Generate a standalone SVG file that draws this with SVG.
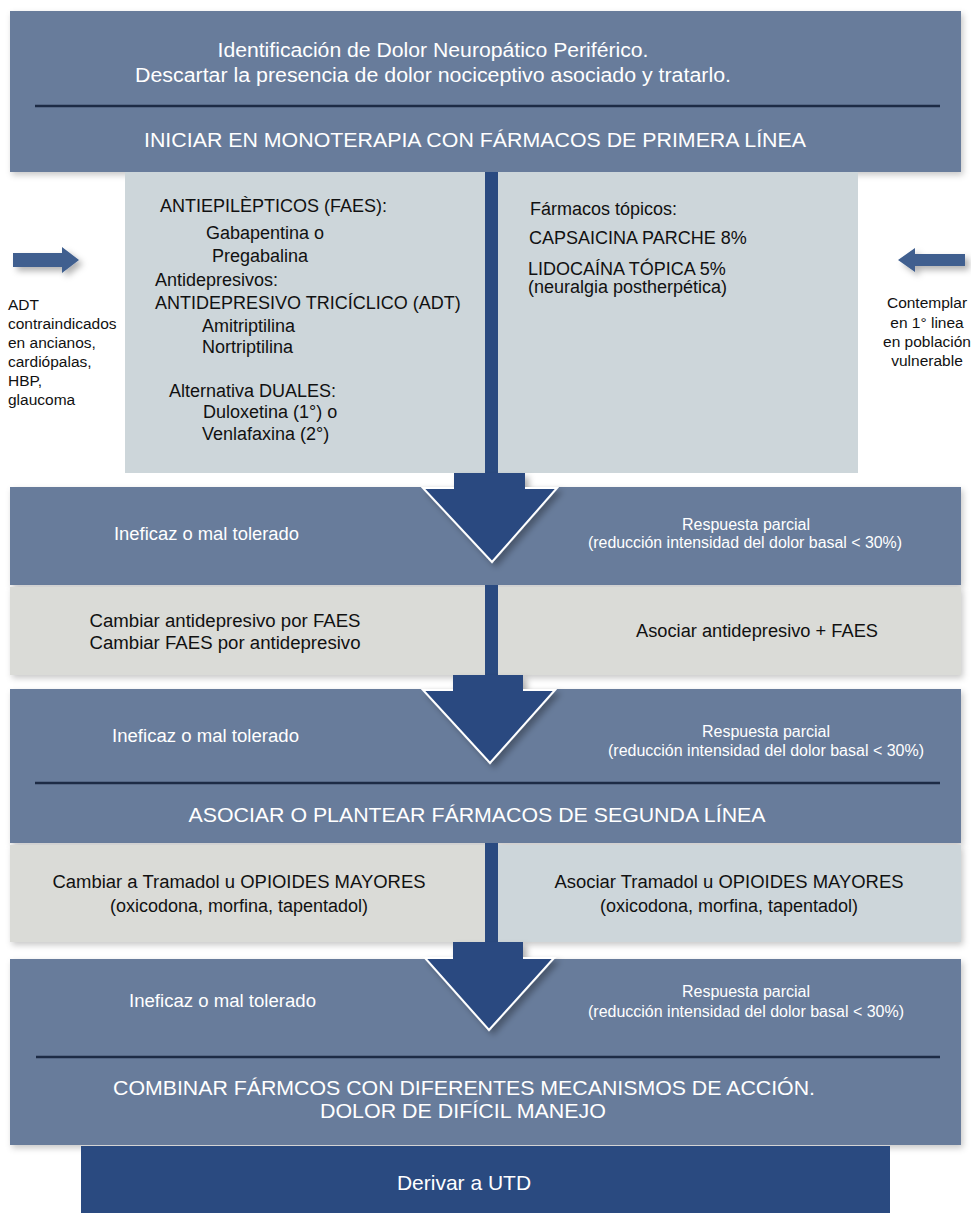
<svg xmlns="http://www.w3.org/2000/svg" width="971" height="1213" viewBox="0 0 971 1213">
<defs>
<filter id="sh" x="-5%" y="-10%" width="110%" height="130%">
<feDropShadow dx="2" dy="3" stdDeviation="3" flood-color="#000" flood-opacity="0.22"/>
</filter>
<filter id="sh2" x="-30%" y="-30%" width="160%" height="180%">
<feDropShadow dx="4" dy="4" stdDeviation="3" flood-color="#000" flood-opacity="0.3"/>
</filter>
<style>
.dark{fill:#677b9b}
.navy{fill:#2a4a80}
.light{fill:#cdd6da}
.grey{fill:#dadbd7}
.sep{stroke:#1d2b45;stroke-width:2.5}
text{font-family:"Liberation Sans",Arial,sans-serif}
.w{fill:#ffffff}
.k{fill:#111111}
.h{font-size:21px}
.m{font-size:18px}
.s{font-size:16px}
.side{font-size:15.5px;fill:#111111}
.c{text-anchor:middle}
.tri{fill:#2a4a80;stroke:#ffffff;stroke-width:2}
.sa{fill:#3f5f8f}
</style>
</defs>
<rect width="971" height="1213" fill="#ffffff"/>

<g id="node-inicio">
<rect class="dark" x="10" y="11" width="951" height="161" filter="url(#sh)"/>
<text class="w c" x="433" y="57" font-size="20" textLength="431" lengthAdjust="spacingAndGlyphs">Identificación de Dolor Neuropático Periférico.</text>
<text class="w c" x="433" y="82" font-size="20" textLength="596" lengthAdjust="spacingAndGlyphs">Descartar la presencia de dolor nociceptivo asociado y tratarlo.</text>
<line class="sep" x1="35" y1="106" x2="940" y2="106"/>
<text class="w c h" x="475" y="147" textLength="662" lengthAdjust="spacingAndGlyphs">INICIAR EN MONOTERAPIA CON FÁRMACOS DE PRIMERA LÍNEA</text>
</g>

<g id="node-primera-linea">
<rect class="light" x="125" y="172" width="733" height="301"/>
<text class="k m" x="160" y="212">ANTIEPILÈPTICOS (FAES):</text>
<text class="k m" x="206" y="239">Gabapentina o</text>
<text class="k m" x="212" y="262">Pregabalina</text>
<text class="k m" x="155" y="286">Antidepresivos:</text>
<text class="k m" x="155" y="309">ANTIDEPRESIVO TRICÍCLICO (ADT)</text>
<text class="k m" x="202" y="332">Amitriptilina</text>
<text class="k m" x="202" y="353">Nortriptilina</text>
<text class="k m" x="169" y="397">Alternativa DUALES:</text>
<text class="k m" x="203" y="418">Duloxetina (1°) o</text>
<text class="k m" x="202" y="440">Venlafaxina (2°)</text>
<text class="k m" x="530" y="215">Fármacos tópicos:</text>
<text class="k m" x="529" y="244">CAPSAICINA PARCHE 8%</text>
<text class="k m" x="528" y="275">LIDOCAÍNA TÓPICA 5%</text>
<text class="k m" x="528" y="293">(neuralgia postherpética)</text>
</g>

<g id="note-adt">
<text class="side" x="8" y="310">ADT</text>
<text class="side" x="8" y="329">contraindicados</text>
<text class="side" x="8" y="348">en ancianos,</text>
<text class="side" x="8" y="367">cardiópalas,</text>
<text class="side" x="8" y="386">HBP,</text>
<text class="side" x="8" y="405">glaucoma</text>
</g>

<g id="note-topicos">
<text class="side c" x="927" y="308">Contemplar</text>
<text class="side c" x="927" y="328">en 1° linea</text>
<text class="side c" x="927" y="347">en población</text>
<text class="side c" x="927" y="366">vulnerable</text>
</g>

<g id="node-respuesta-1">
<rect class="dark" x="10" y="487" width="951" height="98" filter="url(#sh)"/>
<text class="w m" x="114" y="540" textLength="185" lengthAdjust="spacingAndGlyphs">Ineficaz o mal tolerado</text>
<text class="w s c" x="746" y="530">Respuesta parcial</text>
<text class="w s c" x="745" y="548" textLength="314" lengthAdjust="spacingAndGlyphs">(reducción intensidad del dolor basal &lt; 30%)</text>
</g>

<g id="node-cambio-1">
<rect class="grey" x="10" y="587" width="951" height="88" filter="url(#sh)"/>
<text class="k m c" x="225" y="627" textLength="271" lengthAdjust="spacingAndGlyphs">Cambiar antidepresivo por FAES</text>
<text class="k m c" x="225" y="649" textLength="271" lengthAdjust="spacingAndGlyphs">Cambiar FAES por antidepresivo</text>
<text class="k m c" x="757" y="637" textLength="242" lengthAdjust="spacingAndGlyphs">Asociar antidepresivo + FAES</text>
</g>

<g id="node-respuesta-2">
<rect class="dark" x="10" y="689" width="951" height="154" filter="url(#sh)"/>
<text class="w m" x="112" y="742" textLength="187" lengthAdjust="spacingAndGlyphs">Ineficaz o mal tolerado</text>
<text class="w s c" x="766" y="737">Respuesta parcial</text>
<text class="w s c" x="766" y="756" textLength="316" lengthAdjust="spacingAndGlyphs">(reducción intensidad del dolor basal &lt; 30%)</text>
<line class="sep" x1="35" y1="783" x2="940" y2="783"/>
<text class="w c h" x="477" y="822" textLength="577" lengthAdjust="spacingAndGlyphs">ASOCIAR O PLANTEAR FÁRMACOS DE SEGUNDA LÍNEA</text>
</g>

<g id="node-opioides">
<rect class="grey" x="10" y="845" width="475" height="97" filter="url(#sh)"/>
<rect class="light" x="498" y="845" width="463" height="97" filter="url(#sh)"/>
<text class="k m c" x="239" y="888" textLength="373" lengthAdjust="spacingAndGlyphs">Cambiar a Tramadol u OPIOIDES MAYORES</text>
<text class="k m c" x="239" y="912">(oxicodona, morfina, tapentadol)</text>
<text class="k m c" x="729" y="888" textLength="349" lengthAdjust="spacingAndGlyphs">Asociar Tramadol u OPIOIDES MAYORES</text>
<text class="k m c" x="729" y="912">(oxicodona, morfina, tapentadol)</text>
</g>

<g id="node-respuesta-3">
<rect class="dark" x="10" y="959" width="951" height="186" filter="url(#sh)"/>
<text class="w m" x="129" y="1007" textLength="187" lengthAdjust="spacingAndGlyphs">Ineficaz o mal tolerado</text>
<text class="w s c" x="746" y="997">Respuesta parcial</text>
<text class="w s c" x="746" y="1017" textLength="316" lengthAdjust="spacingAndGlyphs">(reducción intensidad del dolor basal &lt; 30%)</text>
<line class="sep" x1="36" y1="1057" x2="940" y2="1057"/>
<text class="w c h" x="464" y="1095" textLength="702" lengthAdjust="spacingAndGlyphs">COMBINAR FÁRMCOS CON DIFERENTES MECANISMOS DE ACCIÓN.</text>
<text class="w c h" x="463" y="1118" textLength="286" lengthAdjust="spacingAndGlyphs">DOLOR DE DIFÍCIL MANEJO</text>
</g>

<g id="node-derivar">
<rect class="navy" x="81" y="1146" width="809" height="67"/>
<text class="w c h" x="464" y="1190">Derivar a UTD</text>
</g>

<g id="connectors">
<rect class="navy" x="485" y="172" width="13" height="302"/>
<rect class="navy" x="485" y="585" width="13" height="91"/>
<rect class="navy" x="485" y="843" width="13" height="100"/>
<g filter="url(#sh2)">
<polygon class="tri" points="423,488 557,488 492,562"/>
<rect class="navy" x="454" y="473" width="71" height="16"/>
</g>
<g filter="url(#sh2)">
<polygon class="tri" points="423,690 555,690 490,763"/>
<rect class="navy" x="453" y="675" width="70" height="16"/>
</g>
<g filter="url(#sh2)">
<polygon class="tri" points="425,958 554,958 489,1030"/>
<rect class="navy" x="453" y="942" width="70" height="17"/>
</g>
<polygon class="sa" points="13,253 62,253 62,247 79,260 62,273 62,267 13,267" filter="url(#sh2)"/>
<polygon class="sa" points="965,254 915,254 915,248 898,260 915,272 915,266 965,266" filter="url(#sh2)"/>
</g>
</svg>
